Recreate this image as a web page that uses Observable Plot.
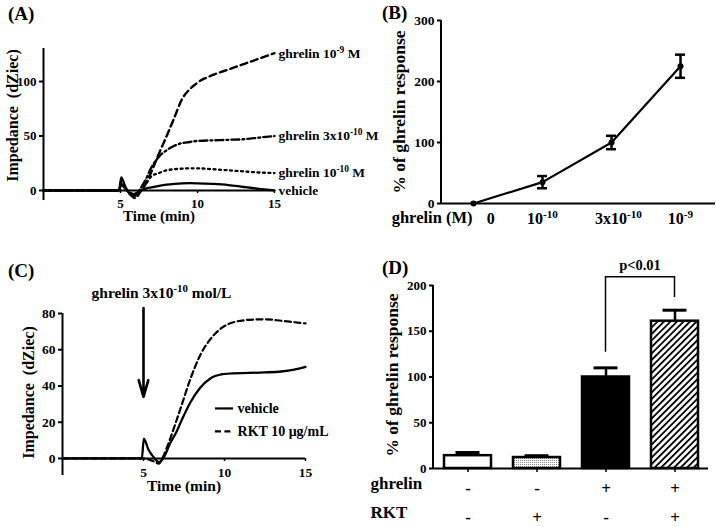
<!DOCTYPE html>
<html><head><meta charset="utf-8">
<script src="https://cdn.jsdelivr.net/npm/d3@7"></script>
<script src="https://cdn.jsdelivr.net/npm/@observablehq/plot@0.6"></script>
<style>
body{margin:0;background:#fff;}
#fig{position:relative;width:716px;height:527px;background:#fff;overflow:hidden;font-family:"Liberation Serif","Times New Roman",serif;font-weight:bold;color:#000;}
.panel{position:absolute;}
.plabel{position:absolute;font-size:19px;line-height:19px;white-space:nowrap;}
</style></head><body>
<div id="fig">
  <div class="panel" id="pa" style="left:0;top:0"></div>
  <div class="panel" id="pb" style="left:360px;top:0"></div>
  <div class="panel" id="pc" style="left:0;top:260px"></div>
  <div class="panel" id="pd" style="left:360px;top:260px"></div>
  <div class="plabel" style="left:8px;top:4px">(A)</div>
  <div class="plabel" style="left:382px;top:3px">(B)</div>
  <div class="plabel" style="left:8px;top:261px">(C)</div>
  <div class="plabel" style="left:382px;top:258px">(D)</div>
</div>
<script>
// ---------- Panel A data ----------
const timeA = [0, 4.9, 5.05, 5.3, 5.65, 5.95, 6.3, 6.6, 7.0, 7.5, 8.0, 8.5, 9.0, 9.5, 10, 11, 12, 13, 14, 15];
const ghrelin1e9A  = [0, 0, 8, 2, -4, -7, -1, 5, 17, 34, 50, 67, 84, 93, 99, 106, 111, 116, 121, 126];
const ghrelin3e10A = [0, 0, 6, 2, -3, -5, 2, 9, 21, 31, 37, 41, 43.5, 44.5, 45.5, 46, 46.5, 47, 48.5, 50];
const ghrelin1e10A = [0, 0, 5, 2, -2, -4, 0, 5, 13, 16, 18.5, 19.5, 20, 20.3, 20.3, 19.5, 18.5, 17.5, 16.5, 16];
const vehicleA     = [0, 0, 12, 4, -3.5, -3, 0, 1.5, 2.8, 4.2, 5.3, 6, 6.5, 6.7, 6.6, 6, 5, 3.2, 1.5, 0];
const seriesNamesA = ["ghrelin 10^{-9} M", "ghrelin 3x10^{-10} M", "ghrelin 10^{-10} M", "vehicle"];
const yTicksA = [0, 50, 100];
const xTicksA = [5, 10, 15];

// ---------- Panel B data ----------
const doseLabelsB = ["0", "10^{-10}", "3x10^{-10}", "10^{-9}"];
const responseMeanB = [0, 35, 100, 225];
const responseSemB = [0, 10, 11, 19];
const yTicksB = [0, 100, 200, 300];

// ---------- Panel C data ----------
const timeC = [0, 4.9, 5.02, 5.3, 5.6, 5.95, 6.25, 6.65, 7.0, 7.3, 7.9, 8.5, 9.1, 9.9, 10.5, 11.5, 12.5, 13.5, 14.3, 15];
const vehicleC = [0, 0, 11, 5, 1, -2, 0.5, 8.5, 14, 20, 31, 39, 44, 46.5, 47, 47.2, 47.5, 48, 49, 50.5];
const rktC     = [0, 0, 0, -0.5, -1.5, -2.8, 1.8, 11, 20, 28, 44, 57, 65.5, 72.5, 75, 76.5, 76.8, 76, 75.2, 74.5];
const seriesNamesC = ["vehicle", "RKT 10 μg/mL"];
const additionLabelC = "ghrelin 3x10^{-10} mol/L";
const additionTimeC = 5;
const yTicksC = [0, 20, 40, 60, 80];
const xTicksC = [5, 10, 15];

// ---------- Panel D data ----------
const ghrelinRowD = ["-", "-", "+", "+"];
const rktRowD = ["-", "+", "-", "+"];
const responseMeanD = [14, 12, 100, 161];
const responseSemD = [3.5, 2, 10, 12];
const yTicksD = [0, 50, 100, 150, 200];
const pLabelD = "p<0.01";

// ---------- styles / layout ----------
const FONT = "'Liberation Serif','Times New Roman',serif";
const baseStyle = {fontFamily: FONT, fontWeight: "bold", overflow: "visible", background: "transparent", color: "black"};
const dashesA = ["7,4", "8,3,2,3", "2,3.5", null];
const widthsA = [2.4, 2.3, 2.3, 2.3];
const labelNudgeB = [0.25, 0, 0.1, 0];
const legendYC = [27.6, 14.9];
const legendXC = [9.44, 10.56];
const dashesC = [null, "6,3.5"];
const arrowC = {from: 83, to: 34};
const barFillsD = ["white", "url(#dotsD)", "black", "url(#hatchD)"];
const bracketD = {from: 2, to: 3, leftEnd: 127, top: 209, rightEnd: 187, labelY: 222};

function supify(root) {
  root.querySelectorAll("text").forEach(t => {
    const s = t.textContent;
    if (!s.includes("^{")) return;
    const parts = s.split(/\^\{([^}]*)\}/);
    t.textContent = "";
    parts.forEach((p, i) => {
      if (!p) return;
      const ts = document.createElementNS("http://www.w3.org/2000/svg", "tspan");
      ts.textContent = p;
      if (i % 2) { ts.setAttribute("baseline-shift", "super"); ts.setAttribute("font-size", "70%"); }
      t.appendChild(ts);
    });
  });
}
const leftSpine = (w = 2) => (index, scales, values, dims) => {
  return d3.create("svg:line")
    .attr("x1", dims.marginLeft).attr("x2", dims.marginLeft)
    .attr("y1", dims.marginTop).attr("y2", dims.height - dims.marginBottom)
    .attr("stroke", "black").attr("stroke-width", w).node();
};

// ---------- Panel A ----------
const seriesA = [ghrelin1e9A, ghrelin3e10A, ghrelin1e10A, vehicleA].map((vals, k) => ({
  name: seriesNamesA[k], last: vals[vals.length - 1],
  rows: timeA.map((t, i) => ({t, v: vals[i]}))
}));
const plotA = Plot.plot({
  width: 360, height: 260, marginLeft: 43, marginRight: 86, marginTop: 48, marginBottom: 60,
  x: {domain: [0, 15], axis: null},
  y: {domain: [-9.2, 130.3]},
  style: baseStyle,
  marks: [
    ...seriesA.map((s, k) => Plot.line(s.rows, {x: "t", y: "v", curve: "monotone-x", strokeWidth: widthsA[k], strokeDasharray: dashesA[k]})),
    Plot.ruleY([0], {strokeWidth: 2}),
    Plot.ruleX([0], {strokeWidth: 2}),
    Plot.axisY({ticks: yTicksA, tickSize: 4, tickPadding: 3, strokeWidth: 2, fontSize: 13, label: null}),
    Plot.ruleX(xTicksA, {x: d => d, y1: 0, y2: 0, insetBottom: -3, strokeWidth: 1.5}),
    Plot.text(xTicksA, {x: d => d, y: 0, dy: 13, text: d => String(d), fontSize: 13}),
    Plot.text(seriesA, {x: 15, y: "last", text: "name", dx: 4, textAnchor: "start", fontSize: 13.5}),
    Plot.text(["Time (min)"], {frameAnchor: "bottom", text: d => d, dy: 20, fontSize: 15}),
    Plot.text(["Impedance  (dZiec)"], {frameAnchor: "left", text: d => d, textAnchor: "middle", rotate: -90, dx: -31, dy: -9, fontSize: 16})
  ]
});
supify(plotA);
document.getElementById("pa").appendChild(plotA);

// ---------- Panel B ----------
const dataB = doseLabelsB.map((label, i) => ({i, label, mean: responseMeanB[i], err: responseSemB[i]}));
const errB = dataB.filter(d => d.err > 0);
const plotB = Plot.plot({
  width: 356, height: 260, marginLeft: 81, marginRight: 1, marginTop: 20, marginBottom: 57,
  x: {domain: [-0.464, 3.507], axis: null},
  y: {domain: [0, 300]},
  style: baseStyle,
  marks: [
    Plot.line(dataB, {x: "i", y: "mean", strokeWidth: 2.2}),
    Plot.ruleX(errB, {x: "i", y1: d => d.mean - d.err, y2: d => d.mean + d.err, strokeWidth: 2.5}),
    Plot.ruleY(errB, {x1: "i", x2: "i", y: d => d.mean + d.err, insetLeft: -5, insetRight: -5, strokeWidth: 2.5}),
    Plot.ruleY(errB, {x1: "i", x2: "i", y: d => d.mean - d.err, insetLeft: -5, insetRight: -5, strokeWidth: 2.5}),
    Plot.dot(dataB, {x: "i", y: "mean", r: 3, fill: "black"}),
    Plot.ruleY([0], {strokeWidth: 2}),
    leftSpine(2),
    Plot.axisY({ticks: yTicksB, tickSize: 4, tickPadding: 3, strokeWidth: 2, fontSize: 13.5, label: null}),
    Plot.text(dataB, {x: (d, i) => d.i + labelNudgeB[i], y: 0, dy: 15, text: "label", fontSize: 16}),
    Plot.text(["ghrelin (M)"], {frameAnchor: "bottom-left", text: d => d, textAnchor: "end", dx: 31, dy: 19, fontSize: 16.5}),
    Plot.text(["% of ghrelin response"], {frameAnchor: "left", text: d => d, textAnchor: "middle", rotate: -90, dx: -42, fontSize: 17.5})
  ]
});
supify(plotB);
document.getElementById("pb").appendChild(plotB);

// ---------- Panel C ----------
const rowsVehC = timeC.map((t, i) => ({t, v: vehicleC[i]}));
const rowsRktC = timeC.map((t, i) => ({t, v: rktC[i]}));
const legendC = seriesNamesC.map((name, k) => ({name, y: legendYC[k], dash: dashesC[k]}));
const plotC = Plot.plot({
  width: 360, height: 267, marginLeft: 62, marginRight: 55, marginTop: 53, marginBottom: 52,
  x: {domain: [0, 15], axis: null},
  y: {domain: [-9.4, 80]},
  style: baseStyle,
  marks: [
    Plot.line(rowsRktC, {x: "t", y: "v", curve: "monotone-x", strokeWidth: 2.2, strokeDasharray: dashesC[1]}),
    Plot.line(rowsVehC, {x: "t", y: "v", curve: "monotone-x", strokeWidth: 2.3}),
    Plot.ruleY([0], {strokeWidth: 2}),
    Plot.ruleX([0], {strokeWidth: 2}),
    Plot.axisY({ticks: yTicksC, tickSize: 4, tickPadding: 3, strokeWidth: 2, fontSize: 13.5, label: null}),
    Plot.ruleX(xTicksC, {x: d => d, y1: 0, y2: 0, insetBottom: -3, strokeWidth: 1.5}),
    Plot.text(xTicksC, {x: d => d, y: 0, dy: 14, text: d => String(d), fontSize: 13.5}),
    Plot.arrow([arrowC], {x1: additionTimeC, x2: additionTimeC, y1: "from", y2: "to", strokeWidth: 2.6, headLength: 10, headAngle: 32}),
    Plot.text([additionLabelC], {x: additionTimeC, y: arrowC.from, text: d => d, dx: 18, dy: -15, fontSize: 15.5}),
    ...legendC.map(l => Plot.ruleY([l], {x1: legendXC[0], x2: legendXC[1], y: "y", strokeWidth: 2.2, strokeDasharray: l.dash})),
    Plot.text(legendC, {x: legendXC[1], y: "y", text: "name", dx: 4, textAnchor: "start", fontSize: 14}),
    Plot.text(["Time (min)"], {frameAnchor: "bottom", text: d => d, dy: 15, fontSize: 15.5}),
    Plot.text(["Impedance  (dZiec)"], {frameAnchor: "left", text: d => d, textAnchor: "middle", rotate: -90, dx: -34, dy: -2, fontSize: 16})
  ]
});
supify(plotC);
document.getElementById("pc").appendChild(plotC);

// ---------- Panel D ----------
const keysD = ghrelinRowD.map((g, i) => `ghrelin${g} RKT${rktRowD[i]}`);
const dataD = keysD.map((k, i) => ({k, mean: responseMeanD[i], err: responseSemD[i], g: ghrelinRowD[i], r: rktRowD[i], fill: barFillsD[i]}));
const defsD = () => {
  const g = d3.create("svg:g");
  const defs = g.append("defs");
  const h = defs.append("pattern").attr("id", "hatchD").attr("patternUnits", "userSpaceOnUse")
    .attr("width", 4.6).attr("height", 4.6).attr("patternTransform", "rotate(45)");
  h.append("rect").attr("width", 4.6).attr("height", 4.6).attr("fill", "white");
  h.append("rect").attr("width", 1.8).attr("height", 4.6).attr("fill", "black");
  const p = defs.append("pattern").attr("id", "dotsD").attr("patternUnits", "userSpaceOnUse")
    .attr("width", 2).attr("height", 2);
  p.append("rect").attr("width", 2).attr("height", 2).attr("fill", "white");
  p.append("rect").attr("width", 1).attr("height", 1).attr("fill", "#8a8a8a");
  return g.node();
};
const bracketMark = (index, scales, values, dims) => {
  const x = scales.x, y = scales.y, bw = x.bandwidth();
  const xa = x(keysD[bracketD.from]) + bw / 2, xb = x(keysD[bracketD.to]) + bw / 2;
  const g = d3.create("svg:g");
  g.append("path").attr("d", `M${xa},${y(bracketD.leftEnd)}V${y(bracketD.top)}H${xb}V${y(bracketD.rightEnd)}`)
    .attr("fill", "none").attr("stroke", "black").attr("stroke-width", 1.5);
  g.append("text").attr("x", (xa + xb) / 2).attr("y", y(bracketD.labelY)).attr("dy", "0.32em")
    .attr("text-anchor", "middle").attr("font-size", 14.5).attr("fill", "black").text(pLabelD);
  return g.node();
};
const plotD = Plot.plot({
  width: 356, height: 267, marginLeft: 73, marginRight: 8, marginTop: 25, marginBottom: 59,
  x: {type: "band", domain: keysD, paddingInner: 0.32, paddingOuter: 0.15, axis: null},
  y: {domain: [0, 200]},
  color: {type: "identity"},
  style: baseStyle,
  marks: [
    defsD,
    Plot.ruleX(dataD, {x: "k", y1: "mean", y2: d => d.mean + d.err, strokeWidth: 2.5}),
    Plot.tickY(dataD, {x: "k", y: d => d.mean + d.err, inset: 11.5, strokeWidth: 3}),
    Plot.barY(dataD, {x: "k", y: "mean", fill: d => d.fill, stroke: "black", strokeWidth: 2.5}),
    Plot.ruleY([0], {strokeWidth: 2}),
    leftSpine(2),
    Plot.axisY({ticks: yTicksD, tickSize: 4, tickPadding: 3, strokeWidth: 2, fontSize: 13, label: null}),
    Plot.ruleX(dataD, {x: "k", y1: 0, y2: 0, insetBottom: -4, strokeWidth: 1.5}),
    Plot.text(dataD, {x: "k", y: 0, dy: 20, text: "g", fontSize: 17}),
    Plot.text(dataD, {x: "k", y: 0, dy: 49, text: "r", fontSize: 17}),
    Plot.text(["ghrelin"], {frameAnchor: "bottom-left", text: d => d, textAnchor: "start", dx: -63, dy: 20, fontSize: 17}),
    Plot.text(["RKT"], {frameAnchor: "bottom-left", text: d => d, textAnchor: "start", dx: -63, dy: 49, fontSize: 17}),
    Plot.text(["% of ghrelin response"], {frameAnchor: "left", text: d => d, textAnchor: "middle", rotate: -90, dx: -41, dy: -2, fontSize: 17.5}),
    bracketMark
  ]
});
supify(plotD);
document.getElementById("pd").appendChild(plotD);
</script>
</body></html>
